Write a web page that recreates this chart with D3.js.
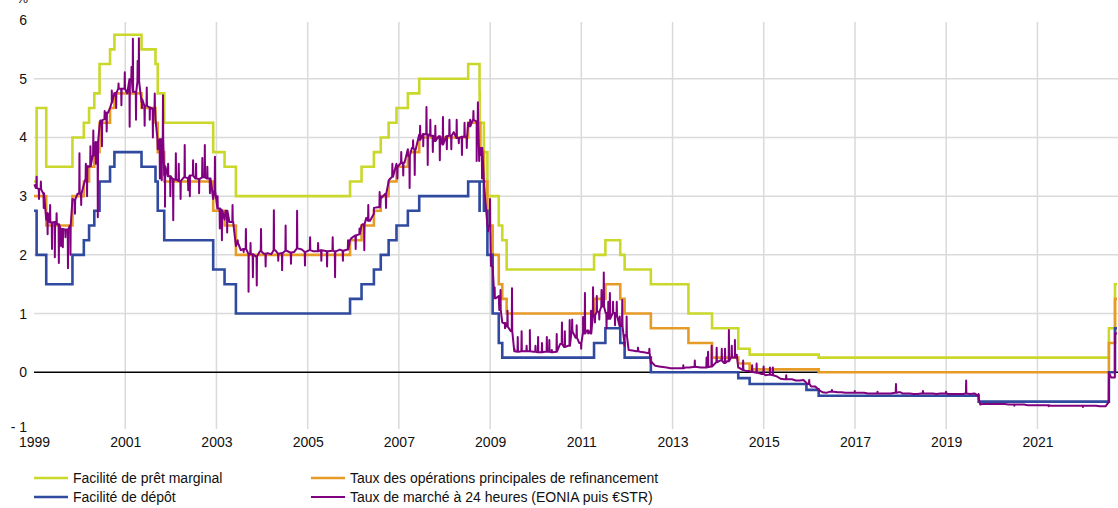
<!DOCTYPE html>
<html><head><meta charset="utf-8">
<script src="https://cdn.jsdelivr.net/npm/d3@7"></script>
<style>
html,body{margin:0;padding:0;background:#fff;}
svg{display:block;font-family:"Liberation Sans Narrow","Arial Narrow","Liberation Sans",Arial,sans-serif;}
</style></head>
<body><svg id="c" width="1118" height="508"></svg>
<script>
// ---------- data ----------
const yTicks = [-1, 0, 1, 2, 3, 4, 5, 6];
const xTickYears = [1999, 2001, 2003, 2005, 2007, 2009, 2011, 2013, 2015, 2017, 2019, 2021];
const seriesNames = ["Facilité de prêt marginal", "Taux des opérations principales de refinancement", "Facilité de dépôt", "Taux de marché à 24 heures (EONIA puis €STR)"];
const endDate = "2022-09-30";

const mlfSteps = [["1999-01-01",3.25],["1999-01-22",4.50],["1999-04-09",3.50],["1999-11-05",4.00],["2000-02-04",4.25],["2000-03-17",4.50],["2000-04-28",4.75],["2000-06-09",5.25],["2000-09-01",5.50],["2000-10-06",5.75],["2001-05-11",5.50],["2001-08-31",5.25],["2001-09-18",4.75],["2001-11-09",4.25],["2002-12-06",3.75],["2003-03-07",3.50],["2003-06-06",3.00],["2005-12-06",3.25],["2006-03-08",3.50],["2006-06-15",3.75],["2006-08-09",4.00],["2006-10-11",4.25],["2006-12-13",4.50],["2007-03-14",4.75],["2007-06-13",5.00],["2008-07-09",5.25],["2008-10-08",4.75],["2008-10-09",4.25],["2008-11-12",3.75],["2008-12-10",3.00],["2009-03-11",2.50],["2009-04-08",2.25],["2009-05-13",1.75],["2011-04-13",2.00],["2011-07-13",2.25],["2011-11-09",2.00],["2011-12-14",1.75],["2012-07-11",1.50],["2013-05-08",1.00],["2013-11-13",0.75],["2014-06-11",0.40],["2014-09-10",0.30],["2016-03-16",0.25],["2022-07-27",0.75],["2022-09-14",1.50]];

const mroSteps = [["1999-01-01",3.00],["1999-04-09",2.50],["1999-11-05",3.00],["2000-02-04",3.25],["2000-03-17",3.50],["2000-04-28",3.75],["2000-06-09",4.25],["2000-09-01",4.50],["2000-10-06",4.75],["2001-05-11",4.50],["2001-08-31",4.25],["2001-09-18",3.75],["2001-11-09",3.25],["2002-12-06",2.75],["2003-03-07",2.50],["2003-06-06",2.00],["2005-12-06",2.25],["2006-03-08",2.50],["2006-06-15",2.75],["2006-08-09",3.00],["2006-10-11",3.25],["2006-12-13",3.50],["2007-03-14",3.75],["2007-06-13",4.00],["2008-07-09",4.25],["2008-10-15",3.75],["2008-11-12",3.25],["2008-12-10",2.50],["2009-01-21",2.00],["2009-03-11",1.50],["2009-04-08",1.25],["2009-05-13",1.00],["2011-04-13",1.25],["2011-07-13",1.50],["2011-11-09",1.25],["2011-12-14",1.00],["2012-07-11",0.75],["2013-05-08",0.50],["2013-11-13",0.25],["2014-06-11",0.15],["2014-09-10",0.05],["2016-03-16",0.00],["2022-07-27",0.50],["2022-09-14",1.25]];

const dfSteps = [["1999-01-01",2.75],["1999-01-22",2.00],["1999-04-09",1.50],["1999-11-05",2.00],["2000-02-04",2.25],["2000-03-17",2.50],["2000-04-28",2.75],["2000-06-09",3.25],["2000-09-01",3.50],["2000-10-06",3.75],["2001-05-11",3.50],["2001-08-31",3.25],["2001-09-18",2.75],["2001-11-09",2.25],["2002-12-06",1.75],["2003-03-07",1.50],["2003-06-06",1.00],["2005-12-06",1.25],["2006-03-08",1.50],["2006-06-15",1.75],["2006-08-09",2.00],["2006-10-11",2.25],["2006-12-13",2.50],["2007-03-14",2.75],["2007-06-13",3.00],["2008-07-09",3.25],["2008-10-08",2.75],["2008-10-09",3.25],["2008-11-12",2.75],["2008-12-10",2.00],["2009-01-21",1.00],["2009-03-11",0.50],["2009-04-08",0.25],["2011-04-13",0.50],["2011-07-13",0.75],["2011-11-09",0.50],["2011-12-14",0.25],["2012-07-11",0.00],["2014-06-11",-0.10],["2014-09-10",-0.20],["2015-12-09",-0.30],["2016-03-16",-0.40],["2019-09-18",-0.50],["2022-07-27",0.00],["2022-09-14",0.75]];

// overnight rate: typical level per month (mid-month), Jan 1999 .. Jun 2022
const overnightStart = "1999-01";
const overnightMonthly = [
 3.14,3.12,3.05,2.71,2.55,2.56,2.52,2.44,2.43,2.50,2.94,3.04,
 3.04,3.28,3.51,3.69,3.92,4.29,4.31,4.42,4.59,4.76,4.83,4.83,
 4.76,4.99,4.78,4.95,4.65,4.54,4.51,4.49,3.99,3.97,3.51,3.34,
 3.29,3.28,3.26,3.32,3.31,3.35,3.30,3.29,3.32,3.30,3.30,3.09,
 2.79,2.76,2.75,2.56,2.56,2.21,2.08,2.10,2.02,2.01,1.97,2.06,
 2.02,2.03,2.01,2.08,2.02,2.03,2.07,2.04,2.05,2.11,2.09,2.05,
 2.08,2.06,2.06,2.08,2.07,2.06,2.07,2.06,2.09,2.07,2.09,2.28,
 2.33,2.35,2.52,2.63,2.58,2.70,2.81,2.97,3.04,3.28,3.33,3.50,
 3.56,3.57,3.69,3.82,3.79,3.96,4.06,4.05,4.03,3.94,4.02,3.88,
 4.02,4.03,4.09,3.99,4.01,4.01,4.19,4.30,4.27,3.82,3.15,2.49,
 1.81,1.26,1.06,0.84,0.78,0.70,0.36,0.35,0.36,0.36,0.36,0.35,
 0.34,0.34,0.35,0.35,0.34,0.35,0.48,0.43,0.45,0.70,0.59,0.50,
 0.66,0.71,0.66,0.97,1.03,1.12,1.01,0.91,1.01,0.96,0.79,0.63,
 0.38,0.37,0.36,0.35,0.34,0.33,0.18,0.11,0.10,0.09,0.08,0.07,
 0.07,0.07,0.07,0.08,0.08,0.09,0.09,0.08,0.08,0.09,0.10,0.17,
 0.20,0.16,0.19,0.25,0.25,0.08,0.04,0.02,0.01,0.00,-0.01,-0.03,
 -0.05,-0.04,-0.05,-0.07,-0.11,-0.12,-0.12,-0.12,-0.14,-0.14,-0.13,-0.20,
 -0.24,-0.24,-0.29,-0.34,-0.35,-0.33,-0.33,-0.34,-0.34,-0.35,-0.35,-0.35,
 -0.35,-0.35,-0.35,-0.36,-0.36,-0.36,-0.36,-0.36,-0.36,-0.36,-0.35,-0.34,
 -0.36,-0.36,-0.36,-0.37,-0.37,-0.36,-0.36,-0.36,-0.36,-0.37,-0.36,-0.36,
 -0.37,-0.37,-0.37,-0.37,-0.37,-0.36,-0.37,-0.36,-0.40,-0.54,-0.54,-0.54,
 -0.54,-0.54,-0.54,-0.54,-0.55,-0.55,-0.55,-0.55,-0.55,-0.56,-0.56,-0.56,
 -0.56,-0.56,-0.56,-0.57,-0.57,-0.57,-0.57,-0.57,-0.57,-0.57,-0.57,-0.57,
 -0.57,-0.57,-0.57,-0.57,-0.58,-0.58
];

// turning points of the overnight rate (daily readings)
const overnightLevels = [
 ["1999-01-04",3.20],["1999-04-09",2.60],["1999-11-05",2.95],["2000-02-04",3.20],["2000-03-17",3.50],["2000-04-28",3.70],
 ["2000-06-09",4.20],["2000-09-01",4.50],["2000-10-06",4.75],["2001-05-11",4.60],["2001-08-31",4.30],["2001-09-18",3.80],
 ["2001-11-09",3.35],["2002-12-06",2.95],["2003-03-07",2.60],["2003-06-06",2.15],["2005-12-06",2.25],["2006-03-08",2.50],
 ["2006-06-15",2.80],["2006-08-09",3.00],["2006-10-11",3.25],["2006-12-13",3.55],["2007-03-14",3.80],["2007-06-13",4.05],
 ["2008-07-09",4.25],["2008-10-15",3.70],["2008-11-12",3.25],["2008-12-10",2.50],["2009-01-21",1.80],["2009-03-11",1.30],
 ["2009-04-08",0.85],["2011-12-14",0.45],["2012-07-11",0.15],["2014-06-11",0.08],["2014-09-10",0.02],["2015-12-09",-0.18],
 ["2016-03-16",-0.30],["2019-09-17",-0.37],["2019-09-19",-0.46],["2019-10-01",-0.55],
 ["2022-06-30",-0.58],["2022-07-26",-0.51],["2022-07-28",-0.01],["2022-08-15",-0.09],
 ["2022-09-13",-0.09],["2022-09-14",0.66],["2022-09-30",0.66]
];

// one-day spikes of the overnight rate
const overnightSpikes = [
 ["1999-01-22",3.33],["1999-02-10",2.95],["1999-02-25",3.25],["1999-03-20",2.80],["1999-04-20",2.35],["1999-05-10",2.85],
 ["1999-05-25",2.10],["1999-06-17",1.96],["1999-07-01",2.71],["1999-07-19",1.86],["1999-08-05",2.15],["1999-08-20",2.13],
 ["1999-09-10",2.30],["1999-09-30",1.77],["1999-10-20",2.00],["1999-11-25",2.70],["1999-12-31",3.73],
 ["2000-01-14",2.85],["2000-02-20",3.55],["2000-03-01",3.00],["2000-03-28",3.85],["2000-04-20",4.12],["2000-05-10",3.55],
 ["2000-05-26",2.64],["2000-06-28",3.85],["2000-07-20",4.45],["2000-08-05",4.10],["2000-09-15",4.80],["2000-10-20",4.50],
 ["2000-11-08",4.92],["2000-12-01",4.55],["2000-12-28",5.11],["2001-01-15",4.75],["2001-02-05",4.18],["2001-02-20",5.20],
 ["2001-03-03",5.68],["2001-03-28",4.30],["2001-04-10",5.30],["2001-04-20",5.69],["2001-05-15",4.50],["2001-06-05",4.20],
 ["2001-06-22",4.85],["2001-07-16",4.30],["2001-08-10",4.00],["2001-08-25",4.75],["2001-10-05",3.30],["2001-10-20",3.27],
 ["2001-10-30",4.72],["2001-11-15",2.82],["2001-12-10",3.55],["2001-12-28",3.00],["2002-01-20",2.59],
 ["2002-02-10",3.73],["2002-03-05",3.55],["2002-03-20",2.95],["2002-04-22",3.87],["2002-05-20",3.10],["2002-06-02",3.00],
 ["2002-06-28",3.61],["2002-07-22",3.55],["2002-08-15",3.05],["2002-09-10",3.65],["2002-09-30",3.87],["2002-10-20",3.50],
 ["2002-11-10",3.05],["2002-12-20",3.67],["2003-01-10",3.00],["2003-01-28",2.45],
 ["2003-02-14",2.25],["2003-03-28",2.38],["2003-05-10",2.85],["2003-06-20",2.25],["2003-08-07",2.05],["2003-08-25",2.44],
 ["2003-09-15",1.37],["2003-10-01",2.20],["2003-10-20",1.62],["2003-11-20",1.48],["2003-12-24",2.44],["2004-01-30",1.80],
 ["2004-04-05",2.76],["2004-05-10",1.90],["2004-06-10",1.74],["2004-07-08",2.50],["2004-08-20",1.85],["2004-10-08",2.75],
 ["2004-12-10",1.82],["2005-01-20",2.30],["2005-03-25",2.20],["2005-04-20",1.90],["2005-06-05",1.80],["2005-07-20",2.30],
 ["2005-08-08",1.62],["2005-10-10",1.90],["2005-11-20",2.25],
 ["2006-01-20",2.10],["2006-02-20",2.45],["2006-03-30",2.08],["2006-05-01",2.85],["2006-07-31",3.07],["2006-09-20",2.80],
 ["2006-11-10",3.55],["2006-12-20",3.30],["2007-01-20",3.75],["2007-02-05",3.35],["2007-03-28",3.14],["2007-04-25",3.95],
 ["2007-05-08",3.36],["2007-06-20",4.20],["2007-07-15",3.85],["2007-08-10",4.52],["2007-08-20",3.53],["2007-09-10",4.30],
 ["2007-09-30",3.75],["2007-10-20",4.20],["2007-11-25",3.61],["2007-12-20",4.35],["2008-01-20",3.80],["2008-02-10",4.30],
 ["2008-02-25",3.80],["2008-04-08",4.30],["2008-04-25",3.90],["2008-05-20",3.70],["2008-06-10",4.25],["2008-06-28",3.82],
 ["2008-07-25",4.30],["2008-08-20",4.45],["2008-09-15",3.60],["2008-09-25",4.60],["2008-10-05",3.60],["2008-10-28",3.30],
 ["2008-12-15",2.40],["2008-12-31",2.95],
 ["2009-01-10",2.00],["2009-02-06",1.45],["2009-03-25",1.40],["2009-04-30",0.75],["2009-05-20",1.05],["2009-06-25",1.43],
 ["2009-07-15",0.40],["2009-08-10",0.60],["2009-09-10",0.70],["2009-10-20",0.45],["2009-11-15",0.72],["2009-12-30",0.45],
 ["2010-01-20",0.60],["2010-02-20",0.50],["2010-03-31",0.60],["2010-04-20",0.55],["2010-05-10",0.38],["2010-06-18",0.65],
 ["2010-07-30",0.85],["2010-08-22",0.70],["2010-09-30",0.89],["2010-10-20",0.90],["2010-11-25",0.80],["2010-12-31",0.40],
 ["2011-01-15",0.94],["2011-01-30",1.35],["2011-02-25",0.66],["2011-03-20",1.05],["2011-04-05",1.45],["2011-04-20",0.85],
 ["2011-05-05",1.30],["2011-05-25",0.90],["2011-06-12",1.40],["2011-06-30",1.70],["2011-07-22",0.75],["2011-08-05",1.20],
 ["2011-08-18",1.35],["2011-09-12",1.20],["2011-09-28",0.80],["2011-10-12",1.20],["2011-11-05",0.95],["2011-11-25",1.23],
 ["2011-12-30",0.95],["2012-03-30",0.42],["2012-06-29",0.40],["2013-03-28",0.12],["2013-06-28",0.20],["2013-09-30",0.25],
 ["2013-10-12",0.35],["2013-11-10",0.45],["2013-12-20",0.42],["2014-01-30",0.40],["2014-02-25",0.40],["2014-03-28",0.72],
 ["2014-04-20",0.45],["2014-05-15",0.55],["2014-05-30",0.30],["2014-07-20",0.20],["2014-09-30",0.12],["2014-11-05",0.15],
 ["2014-12-31",0.10],["2015-02-20",0.08],["2015-03-15",0.08],["2015-06-30",-0.05],["2015-12-31",-0.13],["2016-06-30",-0.30],
 ["2016-12-30",-0.32],["2017-06-30",-0.33],["2017-11-25",-0.20],["2017-12-29",-0.34],["2018-06-29",-0.32],["2018-12-31",-0.33],
 ["2019-06-10",-0.14],["2020-06-30",-0.57],["2021-03-31",-0.58],["2021-12-31",-0.59]
];

// ---------- chart ----------
const W = 1118, H = 508;
const parse = d3.timeParse("%Y-%m-%d");
const x = d3.scaleTime().domain([parse("1999-01-01"), parse(endDate)]).range([34, 1117]);
const y = d3.scaleLinear().domain([-1, 6]).range([431, 20]);
const svg = d3.select("#c");

const colors = {mlf:"#c9d82b", mro:"#e79b27", df:"#2f4a9f", on:"#800080"};

// grid
const grid = svg.append("g");
grid.selectAll("line.h").data(yTicks.filter(v => v > 0 && v < 6)).join("line")
  .attr("x1", 34).attr("x2", W).attr("y1", d => y(d)).attr("y2", d => y(d))
  .attr("stroke", "#dadada").attr("stroke-width", 1.5);
grid.selectAll("line.v").data(xTickYears.filter(v => v > 1999)).join("line")
  .attr("x1", d => x(new Date(d, 0, 1))).attr("x2", d => x(new Date(d, 0, 1)))
  .attr("y1", y(6) + 2).attr("y2", y(-1) - 2)
  .attr("stroke", "#dadada").attr("stroke-width", 1.5);

// zero line
svg.append("line").attr("x1", 34).attr("x2", W).attr("y1", y(0)).attr("y2", y(0))
  .attr("stroke", "#000").attr("stroke-width", 1.5);

// axes
const yAxis = svg.append("g").attr("transform", "translate(34,0)")
  .call(d3.axisLeft(y).tickValues(yTicks).tickSize(0).tickPadding(7)
    .tickFormat(d => d < 0 ? "- " + Math.abs(d) : d));
yAxis.select(".domain").remove();
yAxis.selectAll("text").attr("font-size", 14).attr("fill", "#111").attr("font-family", null)
  .attr("dy", d => d === -1 ? "0.05em" : "0.32em");

const xAxis = svg.append("g").attr("transform", "translate(0,434)")
  .call(d3.axisBottom(x).tickValues(xTickYears.map(v => new Date(v, 0, 1))).tickSize(0).tickPadding(3)
    .tickFormat(d3.timeFormat("%Y")));
xAxis.select(".domain").remove();
xAxis.selectAll("text").attr("font-size", 14).attr("fill", "#111").attr("font-family", null);

svg.append("text").attr("x", 28).attr("y", 3).attr("text-anchor", "end")
  .attr("font-size", 13).attr("fill", "#111").text("%");

// lines
function steps(arr) {
  const pts = arr.map(d => [parse(d[0]), d[1]]);
  pts.push([parse(endDate), arr[arr.length - 1][1]]);
  return pts;
}
const stepLine = d3.line().x(d => x(d[0])).y(d => y(d[1])).curve(d3.curveStepAfter);

const monthStart = d3.timeParse("%Y-%m")(overnightStart);
let onPts = overnightMonthly.map((v, i) => [d3.timeDay.offset(d3.timeMonth.offset(monthStart, i), 14), v]);
onPts = onPts.concat(overnightLevels.map(d => [parse(d[0]), d[1]]));
overnightSpikes.forEach(d => {
  const t = parse(d[0]);
  const mi = (t.getFullYear() - 1999) * 12 + t.getMonth();
  const lvl = overnightMonthly[mi];
  onPts.push([d3.timeDay.offset(t, -2), lvl], [t, d[1]], [d3.timeDay.offset(t, 2), lvl]);
});
onPts.sort((a, b) => a[0] - b[0]);
const onLine = d3.line().x(d => x(d[0])).y(d => y(d[1]));

const plot = svg.append("g").attr("fill", "none").attr("stroke-linejoin", "miter");
plot.append("path").attr("d", stepLine(steps(mlfSteps))).attr("stroke", colors.mlf).attr("stroke-width", 2.6);
plot.append("path").attr("d", stepLine(steps(mroSteps))).attr("stroke", colors.mro).attr("stroke-width", 2.6);
plot.append("path").attr("d", stepLine(steps(dfSteps))).attr("stroke", colors.df).attr("stroke-width", 2.6);
plot.append("path").attr("d", onLine(onPts)).attr("stroke", colors.on).attr("stroke-width", 2).attr("stroke-linejoin", "round");

// legend
const legendItems = [
  {name: seriesNames[0], color: colors.mlf, x: 34, y: 478},
  {name: seriesNames[2], color: colors.df, x: 34, y: 497},
  {name: seriesNames[1], color: colors.mro, x: 311, y: 478},
  {name: seriesNames[3], color: colors.on, x: 311, y: 497}
];
const lg = svg.append("g").selectAll("g").data(legendItems).join("g")
  .attr("transform", d => `translate(${d.x},${d.y})`);
lg.append("line").attr("x1", 0).attr("x2", 34).attr("y1", 0).attr("y2", 0)
  .attr("stroke", d => d.color).attr("stroke-width", d => d.color === colors.on ? 2 : 2.6);
lg.append("text").attr("x", 39).attr("y", 0).attr("dy", "0.35em").attr("font-size", 14).attr("fill", "#111")
  .text(d => d.name);
</script></body></html>
